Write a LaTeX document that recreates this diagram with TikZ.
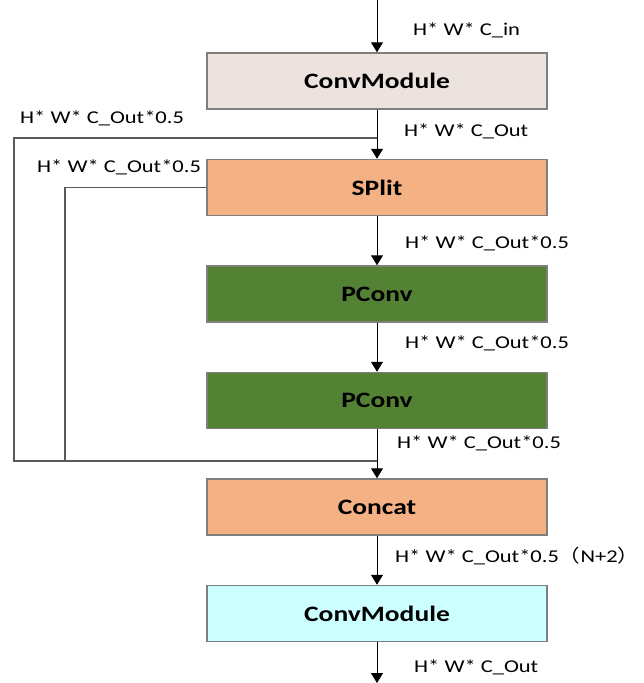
\documentclass[tikz,border=0pt]{standalone}
\usepackage{fontspec}
\setmainfont{Carlito}[FakeStretch=1.25]
\newfontfamily\cjkfont{Noto Sans CJK SC}[FakeStretch=1.2]
\usetikzlibrary{positioning,arrows.meta}
\definecolor{beige}{HTML}{EDE3DE}
\definecolor{peach}{HTML}{F4B183}
\definecolor{leaf}{HTML}{548235}
\definecolor{aqua}{HTML}{CCFFFF}
\definecolor{rim}{HTML}{7F7F7F}

\begin{document}
\begin{tikzpicture}[
    x=1pt, y=-1pt,
    node distance=49pt,
    % Block style: wide box with a grey rim
    block/.style={
        rectangle,
        draw=rim,
        line width=1.5pt,
        minimum width=340pt,
        minimum height=56pt,
        font=\fontsize{22}{25}\selectfont\bfseries,
        },
    % Tensor size labels beside the arrows
    size/.style={anchor=west, inner sep=0pt, font=\fontsize{18}{21}\selectfont},
    flow/.style={draw, line width=1pt, -{Triangle[length=10pt, width=12pt]}},
    loop/.style={draw=black!65, line width=1.3pt},
    ]
    \useasboundingbox (0,0) rectangle (644,683);

    \node [block, fill=beige] (conv1) at (377,81) {ConvModule};
    \node [block, fill=peach, below=of conv1] (split) {SPlit};
    \node [block, fill=leaf, below=of split] (pconv1) {PConv};
    \node [block, fill=leaf, below=of pconv1] (pconv2) {PConv};
    \node [block, fill=peach, below=of pconv2] (concat) {Concat};
    \node [block, fill=aqua, below=of concat] (conv2) {ConvModule};

    \coordinate (in) at (377,0);
    \coordinate (out) at (377,683);
    \coordinate (tap) at (377,138);
    \coordinate (merge) at (377,461);
    \coordinate (outer) at (14,461);
    \coordinate (inner) at (65,461);

    \draw [flow] (in) -- (conv1);
    \draw [flow] (conv1) -- (split);
    \draw [flow] (split) -- (pconv1);
    \draw [flow] (pconv1) -- (pconv2);
    \draw [flow] (pconv2) -- (concat);
    \draw [flow] (concat) -- (conv2);
    \draw [flow] (conv2) -- (out);

    % skip branches
    \draw [loop] (tap) -| (outer) -- (merge);
    \draw [loop] (split.west) -| (inner);

    \node [size] (s0) at (413,30) {H* W* C\_in};
    \node [size] (s1) at (20,118) {H* W* C\_Out*0.5};
    \node [size] (s2) at (404,131) {H* W* C\_Out};
    \node [size] (s3) at (37,167) {H* W* C\_Out*0.5};
    \node [size] (s4) at (405,243) {H* W* C\_Out*0.5};
    \node [size] (s5) at (405,343) {H* W* C\_Out*0.5};
    \node [size] (s6) at (397,443) {H* W* C\_Out*0.5};
    \node [size] (s7) at (395,556) {H* W* C\_Out*0.5{\cjkfont （}N+2{\cjkfont ）}};
    \node [size] (s8) at (414,667) {H* W* C\_Out};
\end{tikzpicture}
\end{document}
